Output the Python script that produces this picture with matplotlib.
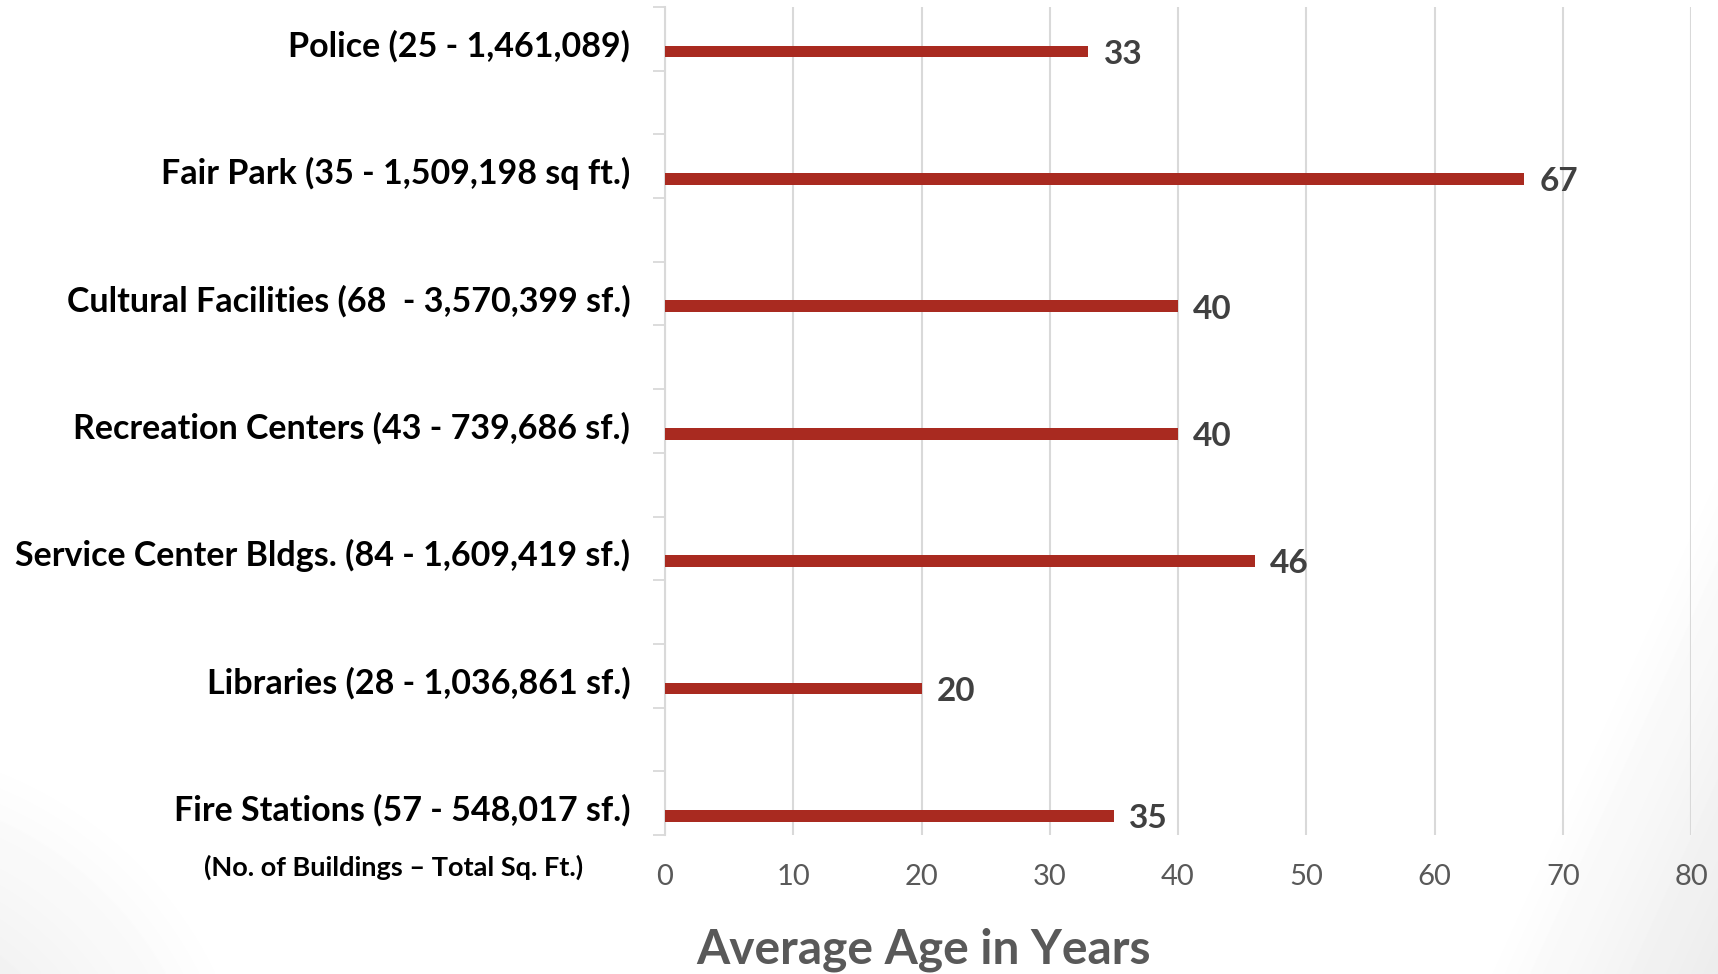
#! /usr/bin/env python3

"""Average age of city buildings by facility type"""

import numpy as np
import matplotlib
matplotlib.use("Agg")
import matplotlib.pyplot as plt

# facility categories, top to bottom
categories = [
    "Police (25 - 1,461,089)",
    "Fair Park (35 - 1,509,198 sq ft.)",
    "Cultural Facilities (68  - 3,570,399 sf.)",
    "Recreation Centers (43 - 739,686 sf.)",
    "Service Center Bldgs. (84 - 1,609,419 sf.)",
    "Libraries (28 - 1,036,861 sf.)",
    "Fire Stations (57 - 548,017 sf.)",
]
# average age in years
ages = [33, 67, 40, 40, 46, 20, 35]
x_ticks = [0, 10, 20, 30, 40, 50, 60, 70, 80]

FONT = ["Lato", "DejaVu Sans"]
BAR_COLOR = "#A92A20"
GRID_COLOR = "#D9D9D9"


def add_background(fig):
    # faint grey shading in the bottom corners, like the slide background
    bg = fig.add_axes([0, 0, 1, 1], zorder=-10)
    h, w = 974, 1718
    yy, xx = np.mgrid[0:h, 0:w].astype(float)
    # bottom right: linear ramp past a diagonal line
    s_right = (xx - 1480) / 238 + (yy - 974) / 524
    shade_right = np.clip(s_right, 0, 1) * 0.075
    # bottom left: soft round patch
    d_left = np.hypot(xx + 150, yy - 1150)
    shade_left = np.clip((420 - d_left) / 260, 0, 1) * 0.07
    img = 1.0 - shade_right - shade_left
    bg.imshow(img, cmap="gray", vmin=0, vmax=1, aspect="auto", interpolation="bilinear")
    bg.axis("off")


def main():
    fig = plt.figure(figsize=(17.18, 9.74), dpi=100)
    add_background(fig)

    ax = fig.add_axes([665 / 1718, 1 - 835 / 974, 1026 / 1718, 828 / 974])
    ax.patch.set_alpha(0)

    y = np.arange(len(categories))
    ax.barh(y, ages, height=0.092, color=BAR_COLOR, zorder=3)

    # value labels at the end of each bar
    for yi, v in zip(y, ages):
        ax.annotate(str(v), (v, yi), xytext=(11, -2), textcoords="offset points",
                    ha="left", va="center", fontsize=24, fontweight="bold",
                    color="#404040", family=FONT)

    # category labels to the left of the axis
    for yi, name in zip(y, categories):
        ax.annotate(name, (0, yi), xytext=(-25, 4), textcoords="offset points",
                    ha="right", va="center", fontsize=24.5, fontweight="bold",
                    color="black", family=FONT, annotation_clip=False)

    ax.set_xlim(0, 80)
    ax.set_ylim(6.15, -0.35)
    ax.set_xticks(x_ticks)
    ax.set_xticklabels([str(t) for t in x_ticks], fontsize=21, color="#595959", family=FONT)
    ax.tick_params(axis="x", length=0, pad=21)

    # small ticks on the left axis at every half category
    ax.set_yticks(np.arange(-0.35, 6.2, 0.5))
    ax.set_yticklabels([])
    ax.tick_params(axis="y", length=9, width=1.3, color=GRID_COLOR, direction="out")

    ax.grid(axis="x", color=GRID_COLOR, linewidth=1.5, zorder=0)
    for side in ["top", "right", "bottom"]:
        ax.spines[side].set_visible(False)
    ax.spines["left"].set_color(GRID_COLOR)
    ax.spines["left"].set_linewidth(1.5)

    fig.text(394 / 1718, 1 - 867 / 974, "(No. of Buildings \u2013 Total Sq. Ft.)",
             ha="center", va="center", fontsize=19.5, fontweight="bold",
             color="black", family=FONT)
    fig.text(924 / 1718, 1 - 950 / 974, "Average Age in Years",
             ha="center", va="center", fontsize=34.5, fontweight="bold",
             color="#595959", family=FONT)

    fig.savefig("out.png", dpi=100)


if __name__ == "__main__":
    main()
